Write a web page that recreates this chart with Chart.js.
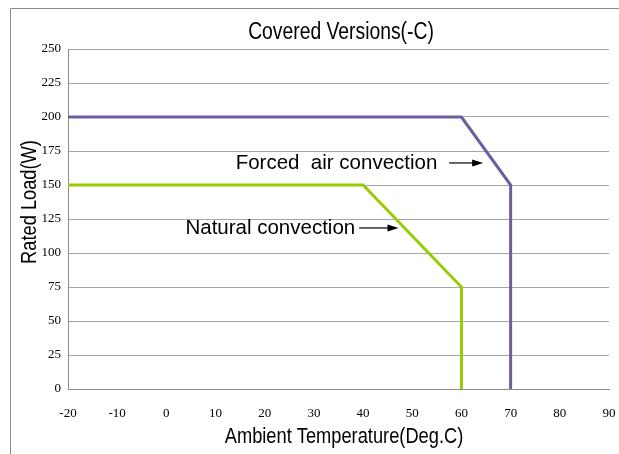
<!DOCTYPE html>
<html><head><meta charset="utf-8">
<script src="https://cdn.jsdelivr.net/npm/chart.js@4"></script>
<style>html,body{margin:0;padding:0;background:#fff}#wrap{width:619px;height:454px}</style>
</head><body><div id="wrap"><canvas id="c" width="619" height="454"></canvas></div>
<script>
const chartTitle = "Covered Versions(-C)";
const xTitle = "Ambient Temperature(Deg.C)";
const yTitle = "Rated Load(W)";
const forcedX = [-20, 60, 70, 70];
const forcedY = [200, 200, 150, 0];
const naturalX = [-20, 40, 60, 60];
const naturalY = [150, 150, 75, 0];
const xTicks = [-20, -10, 0, 10, 20, 30, 40, 50, 60, 70, 80, 90];
const yTicks = [0, 25, 50, 75, 100, 125, 150, 175, 200, 225, 250];
const noteTexts = ["Forced  air convection", "Natural convection"];
const noteTextEndX = [55.1, 38.4];
const noteArrowStartX = [57.5, 39.2];
const noteArrowTipX = [64.4, 47.2];
const noteY = [166.2, 118.4];

const toPts = (xs, ys) => xs.map((x, i) => ({x: x, y: ys[i]}));
const SANS = '"Liberation Sans", Arial, sans-serif';
const SERIF = '"Liberation Serif", "DejaVu Serif", serif';

function narrowText(ctx, text, x, y, size, sx, rot) {
  ctx.save();
  ctx.translate(x, y);
  if (rot) ctx.rotate(rot);
  ctx.scale(sx, 1);
  ctx.font = size + 'px ' + SANS;
  ctx.fillStyle = '#000';
  ctx.textAlign = 'center'; ctx.textBaseline = 'middle';
  ctx.fillText(text, 0, 0);
  ctx.restore();
}

const deco = {
  id: 'deco',
  beforeDraw(chart) {
    const ctx = chart.ctx;
    ctx.save();
    ctx.strokeStyle = '#8c8c8c';
    ctx.lineWidth = 1;
    ctx.beginPath();
    ctx.moveTo(10.5, 454); ctx.lineTo(10.5, 8.5); ctx.lineTo(619, 8.5);
    ctx.stroke();
    ctx.restore();
  },
  afterDraw(chart) {
    const ctx = chart.ctx, xs = chart.scales.x, ys = chart.scales.y;
    narrowText(ctx, chartTitle, 341, 33, 23, 0.84, 0);
    narrowText(ctx, xTitle, 344, 437, 22, 0.83, 0);
    narrowText(ctx, yTitle, 30, 202, 22, 0.83, -Math.PI / 2);
    ctx.save();
    for (let i = 0; i < noteTexts.length; i++) {
      const y = ys.getPixelForValue(noteY[i]);
      ctx.fillStyle = '#000';
      ctx.font = '20.5px ' + SANS;
      ctx.textAlign = 'right'; ctx.textBaseline = 'middle';
      ctx.fillText(noteTexts[i], xs.getPixelForValue(noteTextEndX[i]), y);
      const x0 = xs.getPixelForValue(noteArrowStartX[i]);
      const x1 = xs.getPixelForValue(noteArrowTipX[i]);
      ctx.strokeStyle = '#000'; ctx.lineWidth = 1.2;
      ctx.beginPath(); ctx.moveTo(x0, y); ctx.lineTo(x1 - 8, y); ctx.stroke();
      ctx.beginPath(); ctx.moveTo(x1, y); ctx.lineTo(x1 - 11, y - 3.5); ctx.lineTo(x1 - 11, y + 3.5); ctx.closePath(); ctx.fill();
    }
    ctx.restore();
  }
};

new Chart(document.getElementById('c'), {
  type: 'scatter',
  data: {
    datasets: [
      {label: 'Forced air convection', data: toPts(forcedX, forcedY), showLine: true,
       borderColor: '#6E5C9E', borderWidth: 3, pointRadius: 0, tension: 0, fill: false},
      {label: 'Natural convection', data: toPts(naturalX, naturalY), showLine: true,
       borderColor: '#99CC00', borderWidth: 3, pointRadius: 0, tension: 0, fill: false}
    ]
  },
  options: {
    responsive: false, animation: false,
    layout: {padding: {left: 0, right: 10, top: 49, bottom: 0}},
    plugins: {legend: {display: false}, tooltip: {enabled: false}, title: {display: false}},
    scales: {
      x: {type: 'linear', min: -20, max: 90,
          afterBuildTicks: s => { s.ticks = xTicks.map(v => ({value: v})); },
          afterFit: s => { s.height = 65; s.paddingLeft = 0; s.paddingRight = 0; },
          grid: {display: false, drawTicks: false},
          border: {display: true, color: '#8c8c8c', width: 1},
          ticks: {color: '#000', font: {family: SERIF, size: 13}, padding: 17, maxRotation: 0, autoSkip: false}
      },
      y: {type: 'linear', min: 0, max: 250,
          afterBuildTicks: s => { s.ticks = yTicks.map(v => ({value: v})); },
          afterFit: s => { s.width = 68; s.paddingTop = 0; s.paddingBottom = 0; },
          grid: {color: '#a6a6a6', lineWidth: 1, drawTicks: false},
          border: {display: true, color: '#8c8c8c', width: 1},
          ticks: {color: '#000', font: {family: SERIF, size: 13}, padding: 7, autoSkip: false}
      }
    }
  },
  plugins: [deco]
});
</script></body></html>
